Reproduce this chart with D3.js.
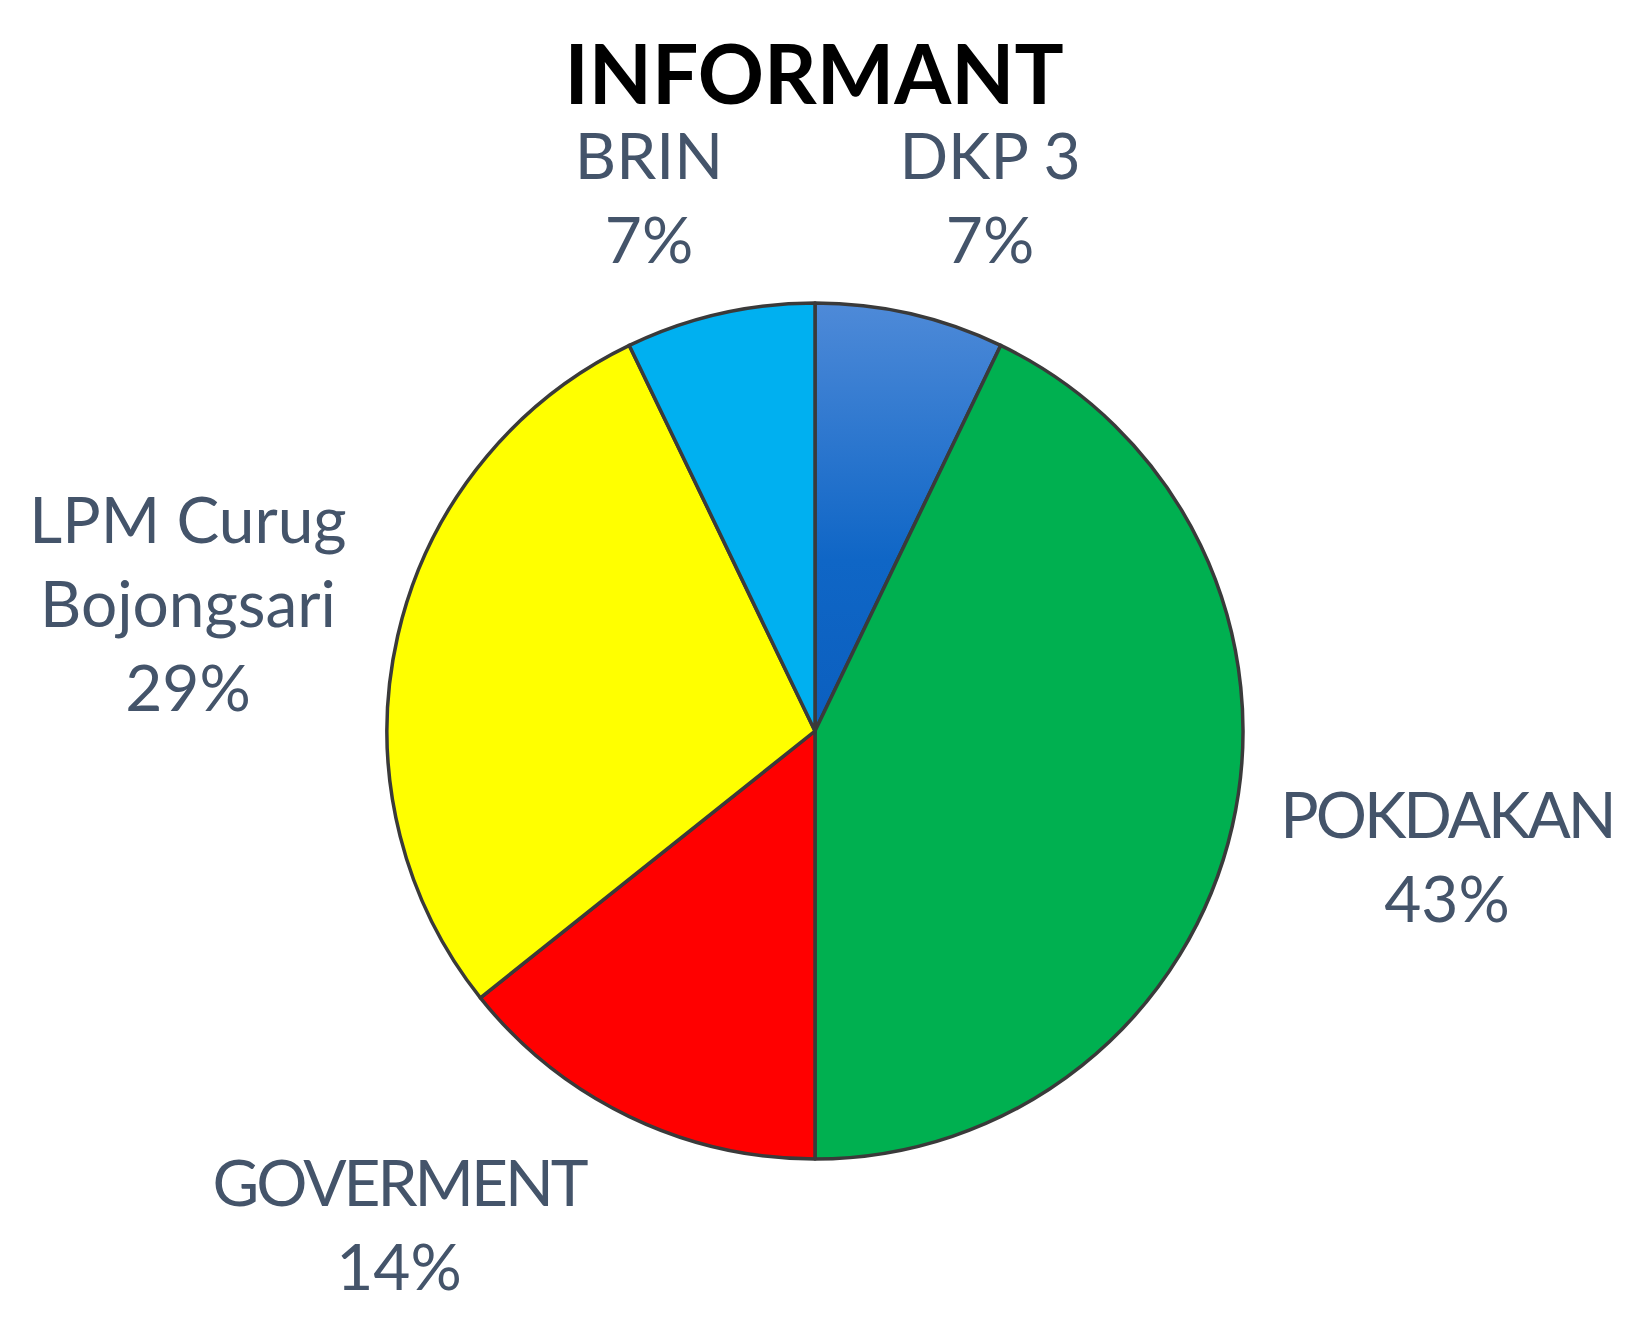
<!DOCTYPE html>
<html>
<head>
<meta charset="utf-8">
<script src="https://cdn.jsdelivr.net/npm/d3@7"></script>
<style>
  body { margin: 0; background: #fff; }
  svg { display: block; }
</style>
</head>
<body>
<svg id="chart" width="1637" height="1321"></svg>
<script>
// data (14 informants)
var categories = ['DKP 3', 'POKDAKAN', 'GOVERMENT', 'LPM Curug Bojongsari', 'BRIN'];
var counts = [1, 6, 2, 4, 1];
var colors = ['url(#dkpGrad)', '#00b050', '#ff0000', '#ffff00', '#00b0f0'];
// label lines and where they sit
var labelLines = [['DKP 3'], ['POKDAKAN'], ['GOVERMENT'], ['LPM Curug', 'Bojongsari'], ['BRIN']];
var labelPos = [[990, 179], [1447, 838], [399, 1206], [188, 543], [649, 179]];

var width = 1637, height = 1321;
var cx = 815, cy = 731, radius = 428;
var lineH = 84;

var svg = d3.select('#chart');

var defs = svg.append('defs');
var grad = defs.append('linearGradient')
  .attr('id', 'dkpGrad')
  .attr('x1', 0).attr('y1', 0).attr('x2', 0).attr('y2', 1);
grad.append('stop').attr('offset', '0%').attr('stop-color', '#4e8ad8');
grad.append('stop').attr('offset', '60%').attr('stop-color', '#0f66c6');
grad.append('stop').attr('offset', '100%').attr('stop-color', '#0b5fbf');

svg.append('text')
  .attr('x', 814)
  .attr('y', 104)
  .attr('text-anchor', 'middle')
  .style('font-family', 'Lato, "Open Sans", sans-serif')
  .style('font-weight', 'bold')
  .style('font-size', '82px')
  .style('fill', '#000')
  .text('INFORMANT');

var total = d3.sum(counts);
var data = categories.map(function(c, i) {
  return { name: c, value: counts[i], color: colors[i], lines: labelLines[i], pos: labelPos[i] };
});

var pie = d3.pie().sort(null).value(function(d) { return d.value; });
var arc = d3.arc().innerRadius(0).outerRadius(radius);

var g = svg.append('g').attr('transform', 'translate(' + cx + ',' + cy + ')');

g.selectAll('path.slice')
  .data(pie(data))
  .enter().append('path')
  .attr('class', 'slice')
  .attr('d', arc)
  .attr('fill', function(d) { return d.data.color; })
  .attr('stroke', '#3a3a3a')
  .attr('stroke-width', 3.5)
  .attr('stroke-linejoin', 'round');

var fmt = d3.format('.0%');

var labels = svg.selectAll('text.lbl')
  .data(data)
  .enter().append('text')
  .attr('class', 'lbl')
  .attr('text-anchor', 'middle')
  .style('font-family', 'Lato, "Open Sans", sans-serif')
  .style('font-size', '64px')
  .style('fill', '#44546a');

labels.each(function(d) {
  var t = d3.select(this);
  var lines = d.lines.concat([fmt(d.value / total)]);
  lines.forEach(function(l, i) {
    // Lato capitals run wider than the original font, so tighten long all-caps words
    var caps = /^[A-Z]{6,}$/.test(l);
    t.append('tspan')
      .attr('x', d.pos[0])
      .attr('y', d.pos[1] + i * lineH)
      .style('letter-spacing', caps ? '-3px' : null)
      .text(l);
  });
});
</script>
</body>
</html>
